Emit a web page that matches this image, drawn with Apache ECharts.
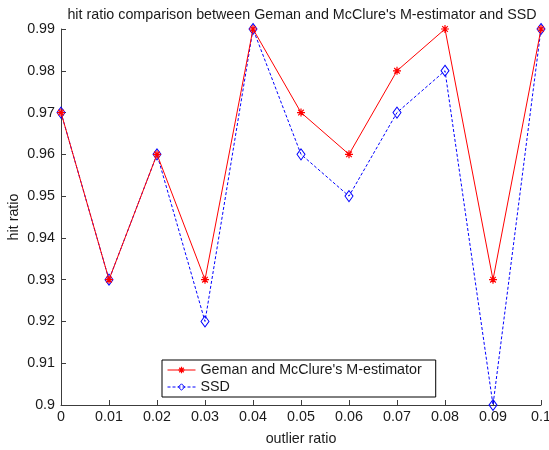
<!DOCTYPE html>
<html>
<head>
<meta charset="utf-8">
<script src="https://cdn.jsdelivr.net/npm/echarts@6/dist/echarts.min.js"></script>
<style>
  html, body { margin: 0; padding: 0; background: #fff; }
  #chart { width: 549px; height: 450px; }
</style>
</head>
<body>
<div id="chart"></div>
<script>
// outlier ratios on the x axis
const outlierRatio = [0, 0.01, 0.02, 0.03, 0.04, 0.05, 0.06, 0.07, 0.08, 0.09, 0.1];
// hit ratio for each method
const gemanMcClure = [0.97, 0.93, 0.96, 0.93, 0.99, 0.97, 0.96, 0.98, 0.99, 0.93, 0.99];
const ssd = [0.97, 0.93, 0.96, 0.92, 0.99, 0.96, 0.95, 0.97, 0.98, 0.90, 0.99];
// tick labels
const xTickLabels = ['0', '0.01', '0.02', '0.03', '0.04', '0.05', '0.06', '0.07', '0.08', '0.09', '0.1'];
const yTickLabels = ['0.9', '0.91', '0.92', '0.93', '0.94', '0.95', '0.96', '0.97', '0.98', '0.99'];

const FONT = 'Liberation Sans, Arial, Helvetica, sans-serif';
const TEXT = '#1a1a1a';
const AXIS = '#3c3c3c';
const FS = 14.3;

// asterisk marker drawn as strokes
const asterisk = 'path://M0,5 L10,5 M5,0 L5,10 M1.5,1.5 L8.5,8.5 M1.5,8.5 L8.5,1.5';

function pairs(xs, ys) { return xs.map((x, i) => [x, ys[i]]); }
function labelAt(list, min, step) {
  return v => list[Math.round((v - min) / step)] ?? '';
}

const gemanStyle = {
  line: { color: '#ff0000', width: 1, type: 'solid' },
  item: { color: 'rgba(0,0,0,0)', borderColor: '#ff0000', borderWidth: 1.2 }
};
const ssdStyle = {
  line: { color: '#0000ff', width: 1, type: [3, 2] },
  item: { color: 'rgba(255,255,255,0)', borderColor: '#0000ff', borderWidth: 1 }
};

const chart = echarts.init(document.getElementById('chart'), null, { renderer: 'canvas' });
chart.setOption({
  animation: false,
  backgroundColor: '#fff',
  title: {
    text: "hit ratio comparison between Geman and McClure's M-estimator and SSD",
    left: 297, top: 3, textAlign: 'center',
    textStyle: { fontFamily: FONT, fontSize: FS, fontWeight: 'normal', color: TEXT }
  },
  grid: { left: 61, right: 8, top: 29, bottom: 45, outerBoundsMode: 'none', containLabel: false },
  xAxis: {
    type: 'value', min: 0, max: 0.1, interval: 0.01,
    name: 'outlier ratio', nameLocation: 'middle', nameGap: 27, nameMoveOverlap: false,
    nameTextStyle: { fontFamily: FONT, fontSize: FS, color: TEXT },
    axisLine: { show: true, lineStyle: { color: AXIS, width: 1 } },
    axisTick: { show: true, inside: true, length: 5, lineStyle: { color: AXIS } },
    axisLabel: { fontFamily: FONT, fontSize: FS, color: TEXT, margin: 5,
                 formatter: labelAt(xTickLabels, 0, 0.01) },
    splitLine: { show: false }
  },
  yAxis: {
    type: 'value', min: 0.9, max: 0.99, interval: 0.01,
    name: 'hit ratio', nameLocation: 'middle', nameGap: 40, nameMoveOverlap: false,
    nameTextStyle: { fontFamily: FONT, fontSize: FS, color: TEXT },
    axisLine: { show: true, lineStyle: { color: AXIS, width: 1 } },
    axisTick: { show: true, inside: true, length: 5, lineStyle: { color: AXIS } },
    axisLabel: { fontFamily: FONT, fontSize: FS, color: TEXT, margin: 6,
                 formatter: labelAt(yTickLabels, 0.9, 0.01) },
    splitLine: { show: false }
  },
  legend: {
    orient: 'vertical', left: 162, top: 360,
    itemWidth: 28, itemHeight: 8, itemGap: 3,
    padding: [3, 14, 3, 5],
    backgroundColor: '#fff', borderColor: '#000', borderWidth: 1, borderRadius: 0,
    textStyle: { fontFamily: FONT, fontSize: FS, color: TEXT },
    data: [
      { name: "Geman and McClure's M-estimator", lineStyle: gemanStyle.line, itemStyle: gemanStyle.item },
      { name: 'SSD', lineStyle: ssdStyle.line, itemStyle: ssdStyle.item }
    ]
  },
  series: [
    {
      name: "Geman and McClure's M-estimator",
      type: 'line',
      data: pairs(outlierRatio, gemanMcClure),
      symbol: asterisk, symbolSize: 8, showAllSymbol: true,
      lineStyle: gemanStyle.line,
      itemStyle: gemanStyle.item,
      z: 3
    },
    {
      name: 'SSD',
      type: 'line',
      data: pairs(outlierRatio, ssd),
      symbol: 'diamond', symbolSize: [8, 11], showAllSymbol: true,
      lineStyle: ssdStyle.line,
      itemStyle: ssdStyle.item,
      z: 2
    }
  ]
});
</script>
</body>
</html>
